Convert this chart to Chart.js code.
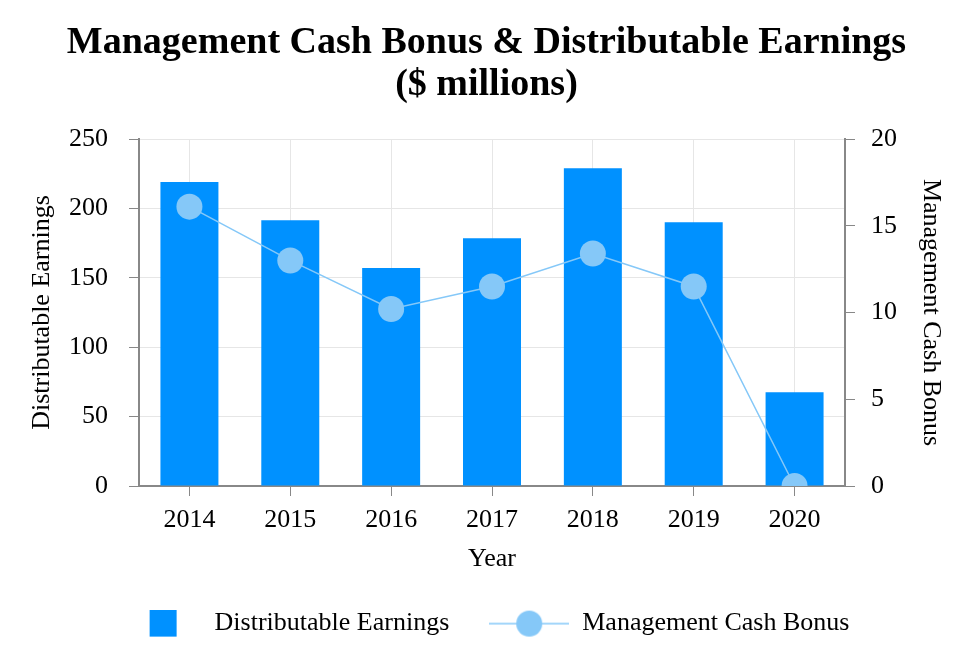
<!DOCTYPE html>
<html>
<head>
<meta charset="utf-8">
<script src="https://cdn.jsdelivr.net/npm/chart.js@4"></script>
<style>
  html, body { margin:0; padding:0; background:#fff; }
  #wrap { width:970px; height:666px; }
</style>
</head>
<body>
<div id="wrap"><canvas id="chart"></canvas></div>
<script>
// ---- data ----
const years = ['2014','2015','2016','2017','2018','2019','2020'];
const distEarnings = [219, 191.5, 157, 178.5, 229, 190, 67.5];
const cashBonus = [16.1, 13.0, 10.2, 11.5, 13.4, 11.5, 0];
const leftTicks = [0, 50, 100, 150, 200, 250];
const rightTicks = [0, 5, 10, 15, 20];

const BAR = '#0091ff';
const LINE = '#85c8f8';
const FONT = "'Liberation Serif', 'DejaVu Serif', serif";
const MW = 80; // legend marker width

// legend markers drawn into small canvases
function barMarker() {
  const c = document.createElement('canvas');
  c.width = MW; c.height = 28;
  const x = c.getContext('2d');
  x.fillStyle = BAR;
  x.fillRect(28, 0, 27, 27);
  return c;
}
function lineMarker() {
  const c = document.createElement('canvas');
  c.width = MW; c.height = 28;
  const x = c.getContext('2d');
  x.strokeStyle = LINE; x.lineWidth = 1.5;
  x.beginPath(); x.moveTo(0, 14); x.lineTo(MW, 14); x.stroke();
  x.fillStyle = LINE;
  x.beginPath(); x.arc(MW / 2, 14, 13, 0, Math.PI * 2); x.fill();
  return c;
}
const markers = [barMarker(), lineMarker()];

// nudge the legend a little up / left after layout
const legendNudge = {
  id: 'legendNudge',
  afterLayout(chart) {
    const lg = chart.legend;
    lg.top -= 4; lg.bottom -= 4;
    lg.left -= 1; lg.right -= 1;
  }
};

const ctx = document.getElementById('chart').getContext('2d');
new Chart(ctx, {
  data: {
    labels: years,
    datasets: [
      {
        type: 'line',
        label: 'Management Cash Bonus',
        data: cashBonus,
        yAxisID: 'y1',
        borderColor: LINE,
        backgroundColor: LINE,
        borderWidth: 1.5,
        pointRadius: 13,
        pointHoverRadius: 13,
        pointBorderWidth: 0,
        pointBackgroundColor: LINE,
        order: 0
      },
      {
        type: 'bar',
        label: 'Distributable Earnings',
        data: distEarnings,
        yAxisID: 'y',
        backgroundColor: BAR,
        barPercentage: 0.575,
        categoryPercentage: 1,
        order: 1
      }
    ]
  },
  plugins: [legendNudge],
  options: {
    responsive: true,
    maintainAspectRatio: false,
    animation: false,
    layout: { padding: { left: 27, right: 24, top: 0, bottom: 15.4 } },
    plugins: {
      title: {
        display: true,
        text: ['Management Cash Bonus & Distributable Earnings', '($ millions)'],
        color: '#000',
        font: { family: FONT, size: 38, weight: 'bold', lineHeight: 1.1 },
        padding: { top: 22, bottom: 33.4 }
      },
      legend: {
        position: 'bottom',
        labels: {
          usePointStyle: true,
          pointStyleWidth: MW,
          color: '#000',
          font: { family: FONT, size: 26 },
          padding: 40,
          generateLabels: (chart) => {
            const ds = chart.data.datasets;
            return [1, 0].map((i, k) => ({
              text: ds[i].label,
              datasetIndex: i,
              pointStyle: markers[k],
              fontColor: '#000',
              hidden: false
            }));
          }
        }
      },
      tooltip: { enabled: false }
    },
    scales: {
      x: {
        afterFit: (s) => { s.height = 88.6; },
        grid: { color: '#e6e6e6', offset: false, tickColor: '#888', tickLength: 10 },
        border: { color: '#888', width: 2 },
        ticks: { color: '#000', font: { family: FONT, size: 26 }, padding: 9 },
        title: { display: true, text: 'Year', color: '#000', font: { family: FONT, size: 26 }, padding: { top: 0, bottom: 0 } }
      },
      y: {
        position: 'left',
        min: 0, max: 250,
        afterBuildTicks: (s) => { s.ticks = leftTicks.map(v => ({ value: v })); },
        afterFit: (s) => { s.width = 112; },
        grid: { color: '#e6e6e6', tickColor: '#888', tickLength: 10 },
        border: { color: '#888', width: 2 },
        ticks: { color: '#000', font: { family: FONT, size: 26 }, padding: 21 },
        title: { display: true, text: 'Distributable Earnings', color: '#000', font: { family: FONT, size: 26 }, padding: { top: 0, bottom: 0 } }
      },
      y1: {
        position: 'right',
        min: 0, max: 20,
        afterBuildTicks: (s) => { s.ticks = rightTicks.map(v => ({ value: v })); },
        afterFit: (s) => { s.width = 101; },
        grid: { drawOnChartArea: false, tickColor: '#888', tickLength: 10 },
        border: { color: '#888', width: 2 },
        ticks: { color: '#000', font: { family: FONT, size: 26 }, padding: 16 },
        title: { display: true, text: 'Management Cash Bonus', color: '#000', font: { family: FONT, size: 26 }, padding: { top: 0, bottom: 0 } }
      }
    }
  }
});
</script>
</body>
</html>
